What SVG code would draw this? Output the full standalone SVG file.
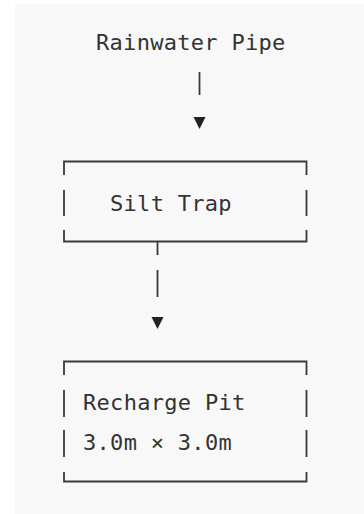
<svg xmlns="http://www.w3.org/2000/svg" width="364" height="514" viewBox="0 0 364 514">
  <style>
    .t { font-family: "DejaVu Sans Mono", "Liberation Mono", monospace; font-size: 22px; letter-spacing: 0.3px; fill: #333; }
    .ln { stroke: #3a3a3a; stroke-width: 1.8; fill: none; }
    .ar { fill: #222; }
  </style>
  <rect x="0" y="0" width="364" height="514" fill="#ffffff"/>
  <rect x="15" y="4" width="349" height="510" fill="#f8f8f8"/>

  <g id="node-pipe">
    <text class="t" x="96" y="50">Rainwater Pipe</text>
  </g>

  <g id="node-silt-trap">
    <path class="ln" d="M64 175 V161.5 H306.5 V175"/>
    <path class="ln" d="M64 190 V216 M306.5 190 V216"/>
    <path class="ln" d="M64 230 V241.5 H306.5 V230"/>
    <text class="t" x="110" y="211">Silt Trap</text>
  </g>

  <g id="node-recharge-pit">
    <path class="ln" d="M64 375 V361.5 H306.5 V375"/>
    <path class="ln" d="M64 390 V417 M306.5 390 V417"/>
    <path class="ln" d="M64 430 V457 M306.5 430 V457"/>
    <path class="ln" d="M64 472 V481.5 H306.5 V472"/>
    <text class="t" x="83" y="410">Recharge Pit</text>
    <text class="t" x="83" y="450">3.0m × 3.0m</text>
  </g>

  <g id="connectors">
    <path class="ln" d="M199.5 72 V95"/>
    <polygon class="ar" points="193.5,117 205.5,117 199.5,129"/>
    <path class="ln" d="M157.5 241.5 V255 M157.5 270 V297"/>
    <polygon class="ar" points="151.5,317 163.5,317 157.5,329"/>
  </g>
</svg>
